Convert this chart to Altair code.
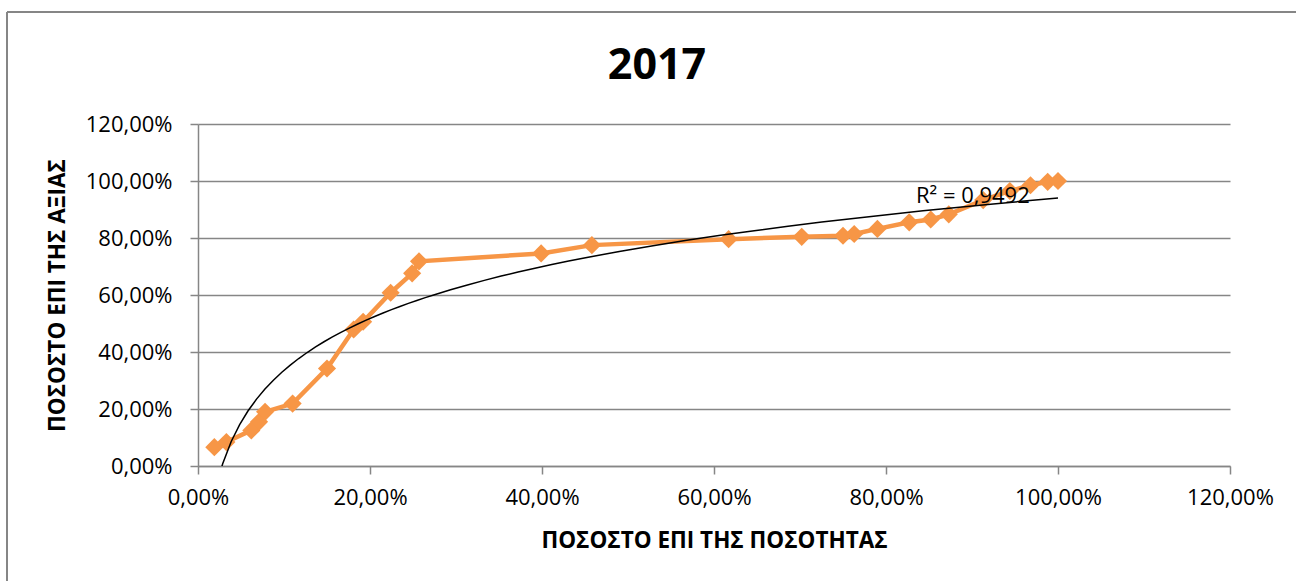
import altair as alt
import pandas as pd

# Cumulative share of quantity (%) and cumulative share of value (%)
x_share = [1.9, 3.3, 6.2, 7.1, 7.8, 11.0, 15.0, 18.1, 19.2, 22.4, 24.9, 25.7,
           39.9, 45.8, 61.7, 70.2, 75.0, 76.3, 79.0, 82.7, 85.2, 87.3,
           91.3, 94.4, 96.8, 98.8, 100.0]
y_share = [6.6, 8.4, 12.5, 15.5, 19.0, 21.9, 34.2, 47.9, 50.6, 60.8, 67.6, 71.8,
           74.6, 77.5, 79.6, 80.4, 80.8, 81.4, 83.2, 85.5, 86.5, 88.3,
           93.3, 96.5, 98.5, 99.7, 100.0]
tick_values = [0, 20, 40, 60, 80, 100, 120]
r2_label = ["R² = 0,9492"]
r2_pos_x = [90.1]
r2_pos_y = [94.6]
title_text = ["2017"]

df = pd.DataFrame({"x": x_share, "y": y_share})
lab = pd.DataFrame({"x": r2_pos_x, "y": r2_pos_y, "t": r2_label})
tdf = pd.DataFrame({"t": title_text})

FONT = "Open Sans"
GRAY = "#868686"
ORANGE = "#F79646"
W, H = 1032, 342
label_expr = "replace(format(datum.value, '.2f'), '.', ',') + '%'"

xscale = alt.Scale(domain=[0, 120], nice=False, zero=False)
yscale = alt.Scale(domain=[0, 120], nice=False, zero=False)

xaxis = alt.Axis(values=tick_values, grid=False, labelExpr=label_expr,
                 labelFlush=False, labelOverlap=False,
                 title="ΠΟΣΟΣΤΟ ΕΠΙ ΤΗΣ ΠΟΣΟΤΗΤΑΣ", titleFont=FONT,
                 titleFontSize=22.5, titleFontWeight="bold", titleColor="black",
                 titlePadding=21, labelFont=FONT, labelFontSize=22,
                 labelColor="black", labelPadding=13, tickSize=8,
                 tickColor=GRAY, domainColor=GRAY, tickWidth=1.5, domainWidth=1.5)
yaxis = alt.Axis(values=tick_values, grid=True, gridColor=GRAY, gridWidth=1.5,
                 labelExpr=label_expr, labelFlush=False, labelOverlap=False,
                 title="ΠΟΣΟΣΤΟ ΕΠΙ ΤΗΣ ΑΞΙΑΣ", titleFont=FONT,
                 titleFontSize=22.5, titleFontWeight="bold", titleColor="black",
                 titlePadding=16, labelFont=FONT, labelFontSize=22,
                 labelColor="black", labelPadding=18, tickSize=8,
                 tickColor=GRAY, domainColor=GRAY, tickWidth=1.5, domainWidth=1.5)

base = alt.Chart(df).encode(
    x=alt.X("x:Q", scale=xscale, axis=xaxis),
    y=alt.Y("y:Q", scale=yscale, axis=yaxis),
)

line = base.mark_line(color=ORANGE, strokeWidth=4.5)
pts = base.mark_point(shape="diamond", filled=True, color=ORANGE, size=330, opacity=1)

trend = base.transform_regression("x", "y", method="log").mark_line(
    color="black", strokeWidth=1.5, clip=True)

txt = alt.Chart(lab).mark_text(font=FONT, fontSize=22, color="black",
                               align="center", baseline="middle").encode(
    x=alt.X("x:Q", scale=xscale), y=alt.Y("y:Q", scale=yscale), text="t:N")

title = alt.Chart(tdf).mark_text(font=FONT, fontSize=43, fontWeight="bold",
                                 color="black", align="center",
                                 baseline="middle").encode(
    x=alt.value(W / 2 - 57), y=alt.value(-58), text="t:N")

border_left = alt.Chart(tdf).mark_rule(color=GRAY, strokeWidth=2).encode(
    x=alt.value(-191), y=alt.value(-112), y2=alt.value(H + 120))
border_top = alt.Chart(tdf).mark_rule(color=GRAY, strokeWidth=2).encode(
    x=alt.value(-191), x2=alt.value(1296 - 198 + 10), y=alt.value(-112))

chart = alt.layer(border_left, border_top, line, pts, trend, txt, title).properties(
    width=W, height=H,
    autosize=alt.AutoSizeParams(type="none"),
    padding={"left": 198, "top": 124, "right": 66, "bottom": 115},
    background="white",
).configure_view(stroke=None)

chart.save("out.html", embed_options={"renderer": "svg", "actions": False})
